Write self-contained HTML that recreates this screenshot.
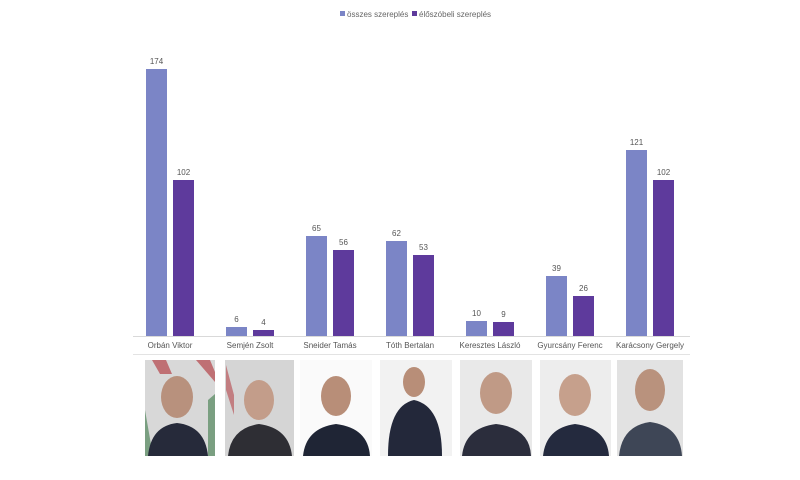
<!DOCTYPE html><html><head><meta charset="utf-8"><style>body{margin:0;background:#fff}svg{display:block}text{font-family:"Liberation Sans",sans-serif}</style></head><body>
<svg width="800" height="480" viewBox="0 0 800 480">
<rect x="340" y="11" width="5" height="5" fill="#7b85c6"/><text x="347" y="17" font-size="8" fill="#666">összes szereplés</text>
<rect x="412" y="11" width="5" height="5" fill="#5e3a9c"/><text x="419" y="17" font-size="8" fill="#666">élőszóbeli szereplés</text>
<line x1="133" y1="336.5" x2="690" y2="336.5" stroke="#d9d9d9"/>
<line x1="133" y1="354.5" x2="690" y2="354.5" stroke="#e3e3e3"/>
<g font-size="8" fill="#555" text-anchor="middle">
<rect x="146" y="69" width="21" height="267" fill="#7b85c6"/><rect x="173" y="180" width="21" height="156" fill="#5e3a9c"/>
<text x="156.5" y="64">174</text><text x="183.5" y="175">102</text>
<rect x="226" y="327" width="21" height="9" fill="#7b85c6"/><rect x="253" y="330" width="21" height="6" fill="#5e3a9c"/>
<text x="236.5" y="322">6</text><text x="263.5" y="325">4</text>
<rect x="306" y="236" width="21" height="100" fill="#7b85c6"/><rect x="333" y="250" width="21" height="86" fill="#5e3a9c"/>
<text x="316.5" y="231">65</text><text x="343.5" y="245">56</text>
<rect x="386" y="241" width="21" height="95" fill="#7b85c6"/><rect x="413" y="255" width="21" height="81" fill="#5e3a9c"/>
<text x="396.5" y="236">62</text><text x="423.5" y="250">53</text>
<rect x="466" y="321" width="21" height="15" fill="#7b85c6"/><rect x="493" y="322" width="21" height="14" fill="#5e3a9c"/>
<text x="476.5" y="316">10</text><text x="503.5" y="317">9</text>
<rect x="546" y="276" width="21" height="60" fill="#7b85c6"/><rect x="573" y="296" width="21" height="40" fill="#5e3a9c"/>
<text x="556.5" y="271">39</text><text x="583.5" y="291">26</text>
<rect x="626" y="150" width="21" height="186" fill="#7b85c6"/><rect x="653" y="180" width="21" height="156" fill="#5e3a9c"/>
<text x="636.5" y="145">121</text><text x="663.5" y="175">102</text>
<text x="170" y="348">Orbán Viktor</text><text x="250" y="348">Semjén Zsolt</text><text x="330" y="348">Sneider Tamás</text><text x="410" y="348">Tóth Bertalan</text><text x="490" y="348">Keresztes László</text><text x="570" y="348">Gyurcsány Ferenc</text><text x="650" y="348">Karácsony Gergely</text>
</g>
<g>
<rect x="145" y="360" width="70" height="96" fill="#d8d8d8"/><path d="M152 360h14l6 14h-12z M196 360h14l5 12v10z" fill="#b5454a" opacity=".7"/><path d="M145 410l8 46h-8z M208 400l7 -6v62h-7z" fill="#3c7a48" opacity=".6"/>
<ellipse cx="177" cy="397" rx="16" ry="21" fill="#b8917d"/><path d="M148 456q3-30 29-33q28 3 31 33z" fill="#262a3a"/>
<rect x="225" y="360" width="69" height="96" fill="#d5d5d5"/><path d="M226 365l8 30v20l-8-25z" fill="#b5454a" opacity=".6"/><ellipse cx="259" cy="400" rx="15" ry="20" fill="#c39d8a"/><path d="M228 456q3-28 31-32q30 4 33 32z" fill="#2e2e34"/>
<rect x="300" y="360" width="72" height="96" fill="#fafafa"/><ellipse cx="336" cy="396" rx="15" ry="20" fill="#b88e78"/><path d="M303 456q3-28 33-32q32 4 34 32z" fill="#1f2535"/>
<rect x="380" y="360" width="72" height="96" fill="#f2f2f2"/><ellipse cx="414" cy="382" rx="11" ry="15" fill="#b88e78"/><path d="M388 456q0-50 26-56q28 6 28 56z" fill="#23283a"/>
<rect x="460" y="360" width="72" height="96" fill="#e9e9e9"/><ellipse cx="496" cy="393" rx="16" ry="21" fill="#c09a86"/><path d="M462 456q3-28 34-32q34 4 35 32z" fill="#2b2d3c"/>
<rect x="540" y="360" width="71" height="96" fill="#ededed"/><ellipse cx="575" cy="395" rx="16" ry="21" fill="#c6a08c"/><path d="M543 456q3-28 32-32q32 4 34 32z" fill="#242a3e"/>
<rect x="617" y="360" width="66" height="96" fill="#e2e2e2"/><ellipse cx="650" cy="390" rx="15" ry="21" fill="#b9927d"/><path d="M619 456q3-30 31-34q30 4 32 34z" fill="#3e4656"/>
</g>
</svg></body></html>
